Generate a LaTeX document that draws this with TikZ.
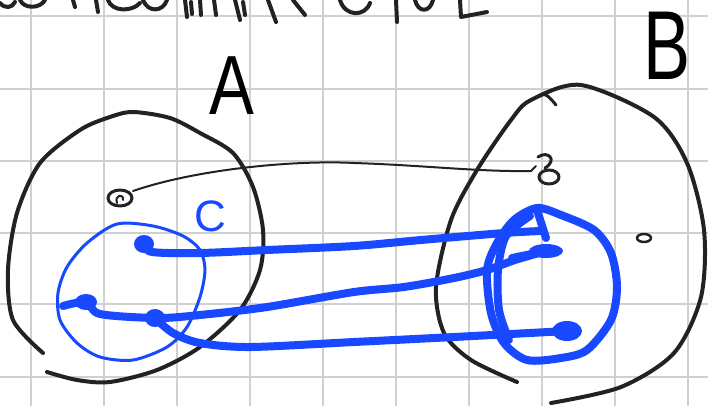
\documentclass[tikz,border=0pt]{standalone}
\usepackage{fontspec}
\setmainfont{Liberation Sans}
\definecolor{ink}{RGB}{34,34,34}
\definecolor{pen}{RGB}{24,72,255}
\definecolor{gridc}{RGB}{208,208,208}
\begin{document}
\begin{tikzpicture}[x=1pt,y=-1pt,line cap=round,line join=round,
  blk/.style={draw=ink,line width=4},
  thinink/.style={draw=ink,line width=2},
  bluethin/.style={draw=pen,line width=3},
  bluethick/.style={draw=pen,line width=8},
  blob/.style={fill=pen,draw=none},
  lbl/.style={inner sep=0pt,outer sep=0pt}]
\useasboundingbox (0,0) rectangle (708,406);
\fill[white] (0,0) rectangle (708,406);
% grid
\foreach \x in {31,104,177,250,323,396,469,542,615,688}
  \draw[gridc,line width=2] (\x,0) -- (\x,406);
\foreach \y in {16,89,161,233,304,377}
  \draw[gridc,line width=2] (0,\y) -- (708,\y);
% cut-off handwriting at top
\begin{scope}[blk]
\draw (0,3) .. controls (5,9) and (12,8) .. (15,2);
\draw (20,0) .. controls (24,9) and (40,9) .. (45,0);
\draw (73,0) -- (75,7);
\draw (96,0) -- (98,12);
\draw (108,0) .. controls (112,12) and (132,12) .. (140,3);
\draw (143,0) .. controls (148,13) and (163,12) .. (167,0);
\draw (185,0) -- (187,17); \draw (191,2) -- (192,14);
\draw (200,0) -- (201,15);
\draw (214,0) -- (216,15);
\draw (235,0) -- (240,20); \draw (243,2) -- (245,15);
\draw (268,0) -- (276,22);
\draw (293,0) -- (305,15);
\draw (340,0) .. controls (345,17) and (365,17) .. (370,3);
\draw (396,0) -- (397,22);
\draw (415,0) .. controls (418,13) and (430,13) .. (433,0);
\draw (460,0) -- (461,17) -- (487,12);
\end{scope}
% labels
\node[lbl,xscale=0.8] (labA) at (232,86) {\fontsize{84}{84}\selectfont A};
\node[lbl,xscale=0.72] (labB) at (667,46) {\fontsize{98}{98}\selectfont B};
\node[lbl,text=pen] (labC) at (210,216) {\fontsize{44}{44}\selectfont C};
% set A
\draw[blk] plot[smooth] coordinates {(43,353)(13,320)(8,270)(17,213)(40,163)(80,130)(110,117)(133,112)(170,118)(200,133)(233,153)(253,187)(263,230)(260,270)(240,310)(200,347)(157,370)(110,382)(77,380)(47,372)};
% set B
\draw[blk] plot[smooth] coordinates {(517,382)(471,360)(444,333)(436,287)(451,220)(477,170)(511,120)(531,100)(581,85)(654,117)(687,163)(704,230)(701,297)(674,353)(621,387)(551,403)};
\draw[thinink,line width=3] (531,100) .. controls (545,92) .. (556,105);
% set C
\draw[bluethin] plot[smooth cycle] coordinates {(117,224)(153,226)(183,236)(200,250)(205,270)(200,297)(187,327)(167,347)(133,360)(100,357)(77,343)(60,320)(58,293)(67,267)(87,243)};
% blue subset in B
\draw[bluethick] plot[smooth cycle] coordinates {(537,208)(561,215)(594,230)(611,253)(617,287)(611,320)(587,350)(561,358)(527,360)(504,343)(491,313)(487,270)(497,243)(514,220)};
\draw[bluethick] plot[smooth] coordinates {(530,216)(506,236)(498,270)(499,310)(509,340)};
% black points
\coordinate (a) at (120,198);
\draw[ink,line width=3] (a) ellipse [x radius=12,y radius=8];
\draw[thinink] (117,203) .. controls (114,195) and (124,193) .. (123,200);
\coordinate (b) at (549,177);
\draw[ink,line width=3] (b) ellipse [x radius=10,y radius=7];
\draw[thinink,line width=3] (538,157) .. controls (548,150) and (558,160) .. (545,168);
\coordinate (bend) at (531,171);
\draw[thinink] (133,191) .. controls (200,168) and (300,160) .. (354,163) .. controls (420,165) and (480,172) .. (bend) -- (536,166);
\coordinate (e) at (644,238);
\draw[ink,line width=2.5] (e) ellipse [x radius=7,y radius=4];
% blue points in C
\coordinate (p1) at (144,244);
\coordinate (p2) at (86,302);
\coordinate (p3) at (155,318);
\fill[blob] (p1) ellipse [x radius=10,y radius=9];
\fill[blob] (p2) ellipse [x radius=11,y radius=8];
\fill[blob] (p3) ellipse [x radius=10,y radius=9];
% targets in B
\coordinate (t1) at (541,231);
\coordinate (t2) at (546,251);
\coordinate (t3) at (567,331);
\draw[bluethick] (537,210) -- (546,238);
\fill[blob] (t2) ellipse [x radius=17,y radius=7];
\draw[bluethick] (512,258) -- (t2);
\fill[blob] (t3) ellipse [x radius=15,y radius=10];
% blue mappings
\draw[bluethick] plot[smooth] coordinates {(p1)(152,252)(200,253)(267,250)(354,246)(421,240)(504,233)(t1)};
\draw[bluethick] plot[smooth] coordinates {(63,306)(p2)(100,314)(157,318)(200,315)(267,307)(354,292)(404,287)(454,278)(487,270)(515,260)(t2)};
\draw[bluethick] plot[smooth] coordinates {(p3)(173,333)(200,343)(250,347)(354,342)(454,337)(t3)};
\end{tikzpicture}
\end{document}
